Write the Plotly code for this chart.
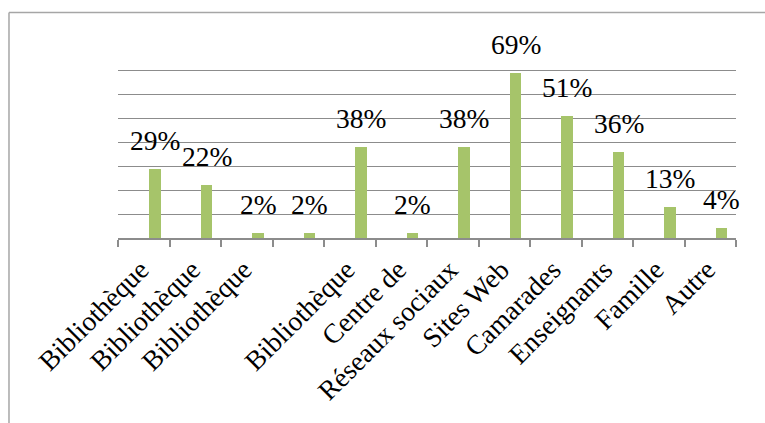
import plotly.graph_objects as go

# Sources d'information citées (% des répondants)
categories = ["Bibliothèque", "Bibliothèque", "Bibliothèque", "", "Bibliothèque",
              "Centre de", "Réseaux sociaux", "Sites Web", "Camarades",
              "Enseignants", "Famille", "Autre"]
values = [29, 22, 2, 2, 38, 2, 38, 69, 51, 36, 13, 4]
value_labels = [f"{v}%" for v in values]

positions = list(range(len(categories)))
bar_offset = 0.11
bar_width = 0.22
label_font = dict(family="Liberation Serif, Times New Roman, serif", size=27.5, color="black")

fig = go.Figure()
fig.add_trace(go.Bar(
    x=positions,
    y=values,
    width=bar_width,
    offset=bar_offset,
    marker=dict(color="#A6C46A", line=dict(width=0)),
    hoverinfo="skip",
))

for pos, v, txt in zip(positions, values, value_labels):
    fig.add_annotation(
        x=pos + bar_offset + bar_width / 2, y=v, xref="x", yref="y",
        text=txt, showarrow=False, yanchor="bottom", xanchor="center",
        yshift=11, font=label_font,
    )

grey = "#8C8C8C"
fig.update_xaxes(
    range=[-0.5, len(categories) - 0.5],
    tickmode="array", tickvals=positions, ticktext=categories,
    tickangle=-45, ticks="", tickfont=label_font,
    ticklabelstandoff=3, ticklabelshift=-3,
    showgrid=False, zeroline=False,
    showline=True, linecolor=grey, linewidth=1.5,
    minor=dict(tickmode="linear", tick0=-0.5, dtick=1, ticks="outside",
               ticklen=7, tickwidth=1.5, tickcolor=grey, showgrid=False),
)
fig.update_yaxes(
    range=[0, 80], dtick=10, showticklabels=False,
    showgrid=True, gridcolor=grey, gridwidth=1.2,
    zeroline=False, showline=False, ticks="",
)

# Chart frame (top and left edges)
frame = dict(color="#A6A6A6", width=1.5)
fig.add_shape(type="line", xref="paper", yref="paper",
              x0=-0.1764, y0=1.18, x1=1.06, y1=1.18, line=frame)
fig.add_shape(type="line", xref="paper", yref="paper",
              x0=-0.1764, y0=1.18, x1=-0.1764, y1=-1.0, line=frame)

fig.update_layout(
    width=765, height=423,
    margin=dict(l=118, r=29, t=47, b=185),
    paper_bgcolor="white", plot_bgcolor="white",
    showlegend=False,
    bargap=0,
)

fig.write_html("out.html")
